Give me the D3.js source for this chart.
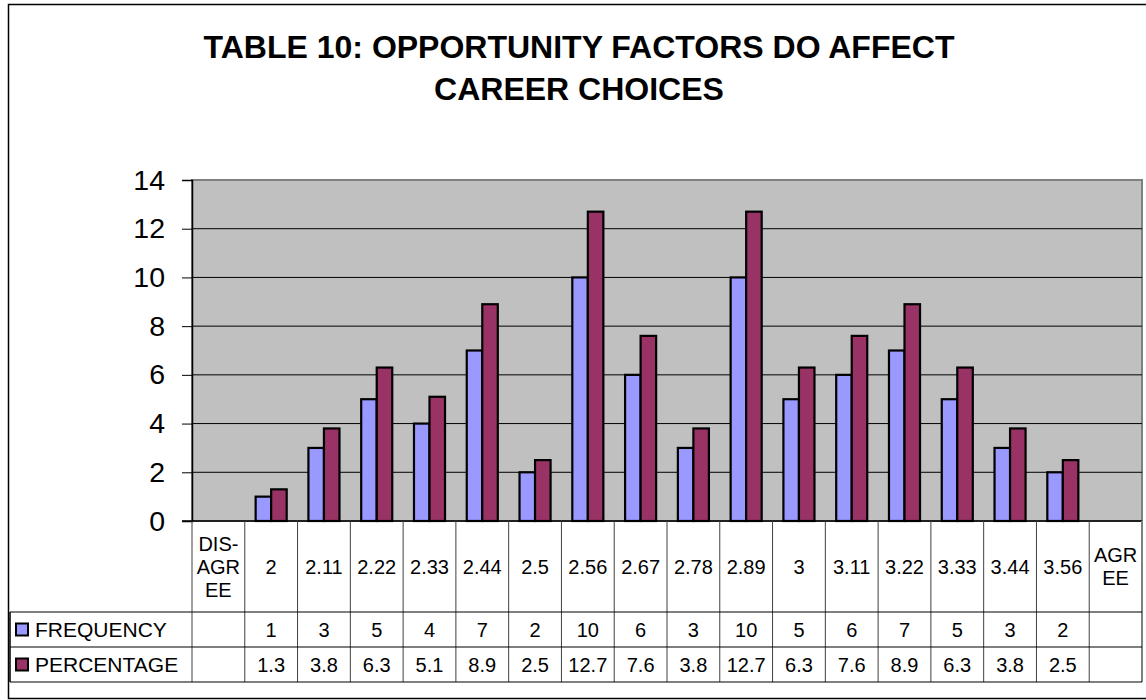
<!DOCTYPE html>
<html>
<head>
<meta charset="utf-8">
<script src="https://cdn.jsdelivr.net/npm/d3@7"></script>
<style>
  body { margin: 0; background: #fff; }
  text { font-family: "Liberation Sans", Arial, sans-serif; }
</style>
</head>
<body>
<svg id="chart" width="1146" height="700"></svg>
<script>
const categories = ["DIS-AGREE", "2", "2.11", "2.22", "2.33", "2.44", "2.5", "2.56", "2.67", "2.78", "2.89", "3", "3.11", "3.22", "3.33", "3.44", "3.56", "AGREE"];
const categoryLines = [["DIS-", "AGR", "EE"], ["2"], ["2.11"], ["2.22"], ["2.33"], ["2.44"], ["2.5"], ["2.56"], ["2.67"], ["2.78"], ["2.89"], ["3"], ["3.11"], ["3.22"], ["3.33"], ["3.44"], ["3.56"], ["AGR", "EE"]];
const frequency = [null, 1, 3, 5, 4, 7, 2, 10, 6, 3, 10, 5, 6, 7, 5, 3, 2, null];
const percentage = [null, 1.3, 3.8, 6.3, 5.1, 8.9, 2.5, 12.7, 7.6, 3.8, 12.7, 6.3, 7.6, 8.9, 6.3, 3.8, 2.5, null];
const seriesNames = ["FREQUENCY", "PERCENTAGE"];
const seriesColors = ["#9999FF", "#993366"];
const yTicks = [0, 2, 4, 6, 8, 10, 12, 14];
const titleLines = ["TABLE 10: OPPORTUNITY FACTORS DO AFFECT", "CAREER CHOICES"];

const width = 1146;
const height = 700;
const plot = { l: 192, r: 1142, t: 180, b: 521 };
const tableTop = plot.b;
const rowHeader = 612;
const rowFreq = 647;
const rowPct = 682;
const legendLeft = 10;

const svg = d3.select("#chart");

// 外框
svg.append("rect")
  .attr("x", 8.5).attr("y", 4.5)
  .attr("width", 1146).attr("height", 694)
  .attr("fill", "#fff")
  .attr("stroke", "#000").attr("stroke-width", 1.5);

// 标题
svg.append("g")
  .selectAll("text")
  .data(titleLines)
  .join("text")
  .attr("x", 579)
  .attr("y", (d, i) => 58 + i * 42)
  .attr("text-anchor", "middle")
  .attr("font-size", 32)
  .attr("font-weight", "bold")
  .text((d) => d);

const x = d3.scaleBand()
  .domain(categories)
  .range([plot.l, plot.r])
  .paddingInner(0)
  .paddingOuter(0);

const xs = d3.scaleBand()
  .domain(seriesNames)
  .range([0, x.bandwidth()])
  .paddingOuter(0.7)
  .paddingInner(0);

const y = d3.scaleLinear().domain([0, 14]).range([plot.b, plot.t]);

// 绘图区背景
svg.append("rect")
  .attr("x", plot.l).attr("y", plot.t)
  .attr("width", plot.r - plot.l).attr("height", plot.b - plot.t)
  .attr("fill", "#C0C0C0")
  .attr("stroke", "#808080").attr("stroke-width", 2);

// 网格线
svg.append("g")
  .selectAll("line")
  .data(yTicks.filter((d) => d > 0 && d < 14))
  .join("line")
  .attr("x1", plot.l).attr("x2", plot.r)
  .attr("y1", (d) => y(d)).attr("y2", (d) => y(d))
  .attr("stroke", "#000").attr("stroke-width", 1);

// Y 轴
const yAxis = svg.append("g")
  .attr("transform", `translate(${plot.l},0)`)
  .call(d3.axisLeft(y).tickValues(yTicks).tickSize(10).tickPadding(17));
yAxis.select(".domain").attr("stroke", "#000").attr("stroke-width", 1.5);
yAxis.selectAll(".tick line").attr("stroke", "#000");
yAxis.selectAll(".tick text")
  .attr("font-size", 28.5)
  .attr("font-family", "Liberation Sans, Arial, sans-serif")
  .attr("fill", "#000");

// 柱子
const series = [frequency, percentage];
series.forEach((vals, si) => {
  svg.append("g")
    .selectAll("rect")
    .data(categories.map((c, i) => ({ c, v: vals[i] })).filter((d) => d.v != null))
    .join("rect")
    .attr("x", (d) => x(d.c) + xs(seriesNames[si]))
    .attr("y", (d) => y(d.v))
    .attr("width", xs.bandwidth())
    .attr("height", (d) => y(0) - y(d.v))
    .attr("fill", seriesColors[si])
    .attr("stroke", "#000")
    .attr("stroke-width", 2.2);
});

// 零线
svg.append("line")
  .attr("x1", plot.l - 10).attr("x2", plot.r)
  .attr("y1", y(0)).attr("y2", y(0))
  .attr("stroke", "#000").attr("stroke-width", 1.5);

// 数据表
const table = svg.append("g");
const lineColor = "#404040";

// 垂直线
table.selectAll(".vline")
  .data(categories.concat(["_end"]))
  .join("line")
  .attr("class", "vline")
  .attr("x1", (d, i) => plot.l + i * x.bandwidth())
  .attr("x2", (d, i) => plot.l + i * x.bandwidth())
  .attr("y1", tableTop)
  .attr("y2", rowPct)
  .attr("stroke", (d, i) => (i === categories.length ? "#808080" : lineColor))
  .attr("stroke-width", (d, i) => (i === categories.length ? 2 : 1));

table.append("line")
  .attr("x1", legendLeft).attr("x2", legendLeft)
  .attr("y1", rowHeader).attr("y2", rowPct)
  .attr("stroke", "#000").attr("stroke-width", 1.5);

// 水平线
table.selectAll(".hline")
  .data([rowHeader, rowFreq, rowPct])
  .join("line")
  .attr("class", "hline")
  .attr("x1", legendLeft).attr("x2", plot.r)
  .attr("y1", (d) => d).attr("y2", (d) => d)
  .attr("stroke", "#000").attr("stroke-width", 1.2);

// 类别标签
const catG = table.selectAll(".cat")
  .data(categories)
  .join("text")
  .attr("class", "cat")
  .attr("text-anchor", "middle")
  .attr("font-size", 20)
  .attr("x", (d) => x(d) + x.bandwidth() / 2);

catG.each(function (d, i) {
  const lines = categoryLines[i];
  const lh = 23;
  const mid = (tableTop + rowHeader) / 2 + 7;
  const start = mid - ((lines.length - 1) * lh) / 2;
  d3.select(this)
    .selectAll("tspan")
    .data(lines)
    .join("tspan")
    .attr("x", x(d) + x.bandwidth() / 2)
    .attr("y", (l, j) => start + j * lh)
    .text((l) => l);
});

// 数值行
const rows = [
  { name: seriesNames[0], vals: frequency, top: rowHeader, bottom: rowFreq, color: seriesColors[0] },
  { name: seriesNames[1], vals: percentage, top: rowFreq, bottom: rowPct, color: seriesColors[1] },
];

rows.forEach((r) => {
  const cy = (r.top + r.bottom) / 2;
  table.append("rect")
    .attr("x", 16).attr("y", cy - 6)
    .attr("width", 12).attr("height", 12)
    .attr("fill", r.color)
    .attr("stroke", "#000").attr("stroke-width", 2);
  table.append("text")
    .attr("x", 35).attr("y", cy + 7.5)
    .attr("font-size", 21)
    .text(r.name);
  table.append("g")
    .selectAll("text")
    .data(categories.map((c, i) => ({ c, v: r.vals[i] })).filter((d) => d.v != null))
    .join("text")
    .attr("x", (d) => x(d.c) + x.bandwidth() / 2)
    .attr("y", cy + 7.5)
    .attr("text-anchor", "middle")
    .attr("font-size", 20)
    .text((d) => d.v);
});
</script>
</body>
</html>
